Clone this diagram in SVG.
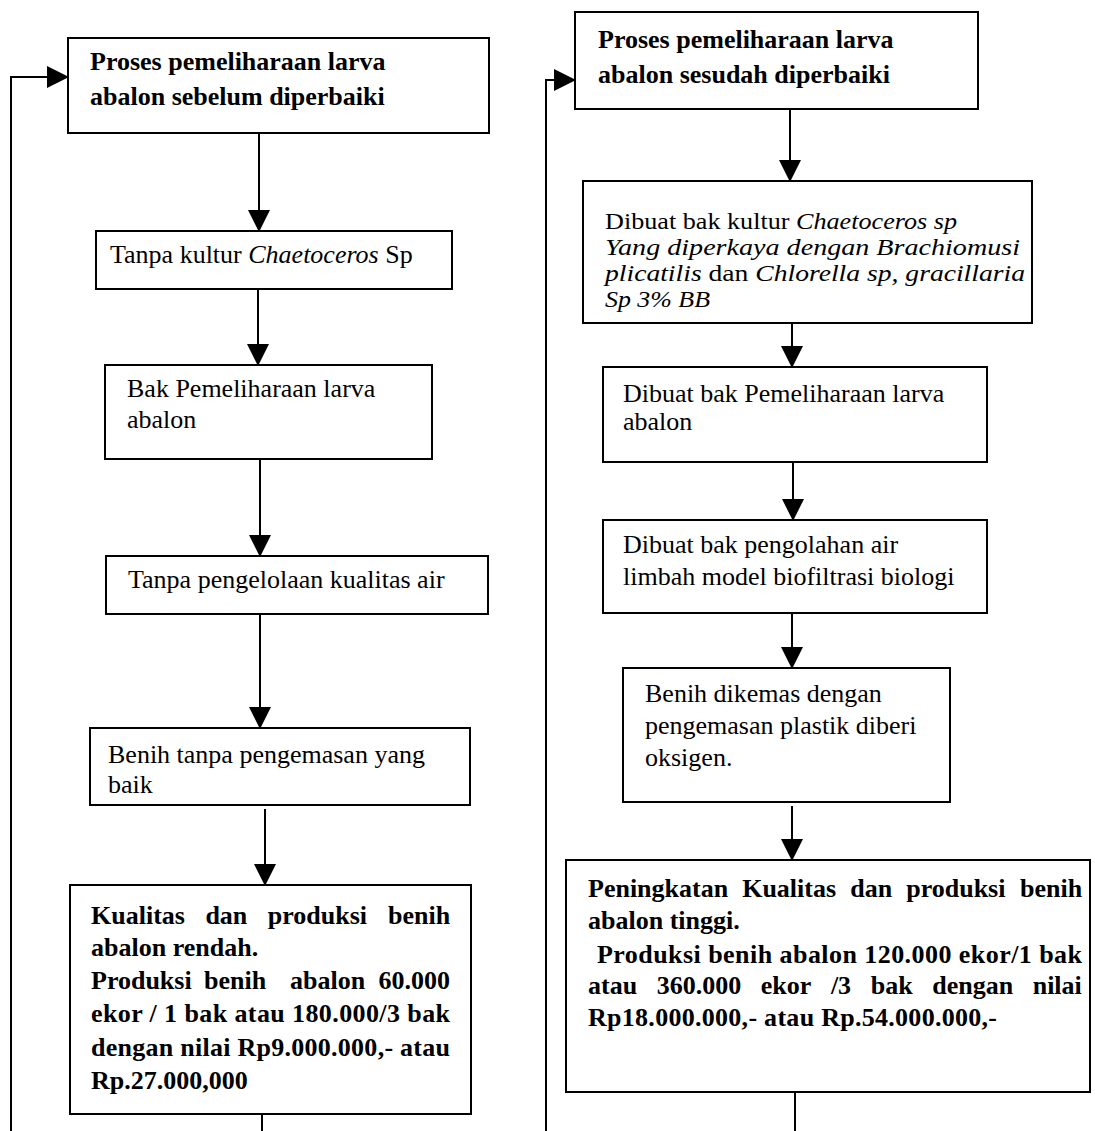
<svg xmlns="http://www.w3.org/2000/svg" width="1095" height="1131" viewBox="0 0 1095 1131">
<style>
.box{fill:#fff;stroke:#000;stroke-width:2}
.t{font-family:"Liberation Serif","Times New Roman",serif;font-size:26px;fill:#000}
.s{font-size:23px}
.b{font-weight:bold}
.i{font-style:italic}
.c{stroke:#000;stroke-width:2;fill:none}
</style>
<defs>
<marker id="ah" markerUnits="userSpaceOnUse" markerWidth="22" markerHeight="22" refX="21" refY="11" orient="auto">
<path d="M0,0 L22,11 L0,22 Z" fill="#000"/>
</marker>
</defs>
<rect width="1095" height="1131" fill="#fff"/>
<g id="connectors">
<line class="c" x1="259" y1="133" x2="259" y2="231" marker-end="url(#ah)"/>
<line class="c" x1="258" y1="289" x2="258" y2="365" marker-end="url(#ah)"/>
<line class="c" x1="260" y1="459" x2="260" y2="556" marker-end="url(#ah)"/>
<line class="c" x1="260" y1="614" x2="260" y2="728" marker-end="url(#ah)"/>
<line class="c" x1="265" y1="809" x2="265" y2="885" marker-end="url(#ah)"/>
<line class="c" x1="262" y1="1114" x2="262" y2="1131"/>
<polyline class="c" points="11,1131 11,77 68,77" marker-end="url(#ah)"/>
<line class="c" x1="790" y1="109" x2="790" y2="181" marker-end="url(#ah)"/>
<line class="c" x1="792" y1="323" x2="792" y2="367" marker-end="url(#ah)"/>
<line class="c" x1="793" y1="462" x2="793" y2="520" marker-end="url(#ah)"/>
<line class="c" x1="792" y1="613" x2="792" y2="668" marker-end="url(#ah)"/>
<line class="c" x1="792" y1="806" x2="792" y2="860" marker-end="url(#ah)"/>
<line class="c" x1="795" y1="1092" x2="795" y2="1131"/>
<polyline class="c" points="546,1131 546,80 575,80" marker-end="url(#ah)"/>
</g>
<g id="L1">
<rect class="box" x="68" y="38" width="421" height="95"/>
<text class="t b" x="90" y="70">Proses pemeliharaan larva</text>
<text class="t b" x="90" y="105">abalon sebelum diperbaiki</text>
</g>
<g id="L2">
<rect class="box" x="96" y="231" width="356" height="58"/>
<text class="t" x="110" y="263">Tanpa kultur <tspan class="i">Chaetoceros</tspan> Sp</text>
</g>
<g id="L3">
<rect class="box" x="105" y="365" width="327" height="94"/>
<text class="t" x="127" y="397">Bak Pemeliharaan larva</text>
<text class="t" x="127" y="428">abalon</text>
</g>
<g id="L4">
<rect class="box" x="106" y="556" width="382" height="58"/>
<text class="t" x="128" y="588">Tanpa pengelolaan kualitas air</text>
</g>
<g id="L5">
<rect class="box" x="90" y="728" width="380" height="77"/>
<text class="t" x="108" y="763">Benih tanpa pengemasan yang</text>
<text class="t" x="108" y="793">baik</text>
</g>
<g id="L6">
<rect class="box" x="70" y="885" width="401" height="229"/>
<text class="t b" y="924"><tspan x="91">Kualitas </tspan><tspan x="205.4">dan </tspan><tspan x="267.8">produksi </tspan><tspan x="388">benih</tspan></text>
<text class="t b" x="91" y="956">abalon rendah.</text>
<text class="t b" y="989"><tspan x="91">Produksi </tspan><tspan x="204">benih  </tspan><tspan x="290">abalon </tspan><tspan x="378.5">60.000</tspan></text>
<text class="t b" x="91" y="1022" textLength="359" lengthAdjust="spacing">ekor / 1 bak atau 180.000/3 bak</text>
<text class="t b" x="91" y="1056" textLength="359" lengthAdjust="spacing">dengan nilai Rp9.000.000,- atau</text>
<text class="t b" x="91" y="1089">Rp.27.000,000</text>
</g>
<g id="R1">
<rect class="box" x="575" y="12" width="403" height="97"/>
<text class="t b" x="598" y="48">Proses pemeliharaan larva</text>
<text class="t b" x="598" y="83">abalon sesudah diperbaiki</text>
</g>
<g id="R2">
<rect class="box" x="583" y="181" width="449" height="142"/>
<text class="t s" x="605" y="229" textLength="352" lengthAdjust="spacingAndGlyphs">Dibuat bak kultur <tspan class="i">Chaetoceros sp</tspan></text>
<text class="t s i" x="605" y="255" textLength="415" lengthAdjust="spacingAndGlyphs">Yang diperkaya dengan Brachiomusi</text>
<text class="t s" x="605" y="281" textLength="420" lengthAdjust="spacingAndGlyphs"><tspan class="i">plicatilis</tspan> dan <tspan class="i">Chlorella sp, gracillaria</tspan></text>
<text class="t s i" x="605" y="307" textLength="105" lengthAdjust="spacingAndGlyphs">Sp 3% BB</text>
</g>
<g id="R3">
<rect class="box" x="603" y="367" width="384" height="95"/>
<text class="t" x="623" y="402">Dibuat bak Pemeliharaan larva</text>
<text class="t" x="623" y="430">abalon</text>
</g>
<g id="R4">
<rect class="box" x="603" y="520" width="384" height="93"/>
<text class="t" x="623" y="553">Dibuat bak pengolahan air</text>
<text class="t" x="623" y="585">limbah model biofiltrasi biologi</text>
</g>
<g id="R5">
<rect class="box" x="623" y="668" width="327" height="134"/>
<text class="t" x="645" y="702">Benih dikemas dengan</text>
<text class="t" x="645" y="734">pengemasan plastik diberi</text>
<text class="t" x="645" y="766">oksigen.</text>
</g>
<g id="R6">
<rect class="box" x="566" y="860" width="524" height="232"/>
<text class="t b" y="897"><tspan x="588">Peningkatan </tspan><tspan x="742.2">Kualitas </tspan><tspan x="850.2">dan </tspan><tspan x="906.2">produksi </tspan><tspan x="1020">benih</tspan></text>
<text class="t b" x="588" y="929">abalon tinggi.</text>
<text class="t b" x="597" y="963" textLength="485" lengthAdjust="spacing">Produksi benih abalon 120.000 ekor/1 bak</text>
<text class="t b" y="994"><tspan x="588">atau </tspan><tspan x="656.7">360.000 </tspan><tspan x="760.8">ekor </tspan><tspan x="830.9">/3 </tspan><tspan x="870.7">bak </tspan><tspan x="932.2">dengan </tspan><tspan x="1032.7">nilai</tspan></text>
<text class="t b" x="588" y="1026" textLength="409" lengthAdjust="spacing">Rp18.000.000,- atau Rp.54.000.000,-</text>
</g>
</svg>
